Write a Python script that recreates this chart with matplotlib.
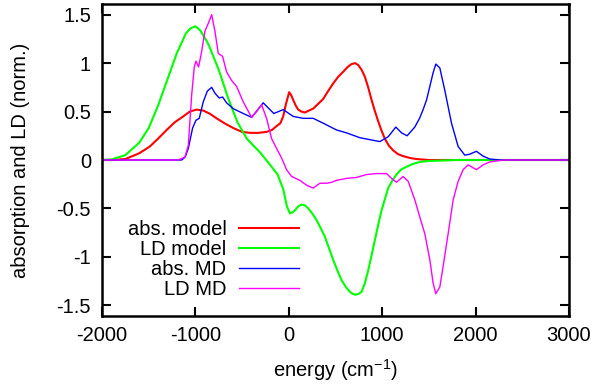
import numpy as np
import matplotlib
matplotlib.use("Agg")
import matplotlib.pyplot as plt

plt.rcParams['font.family'] = ['Liberation Sans', 'DejaVu Sans']
plt.rcParams['mathtext.default'] = 'regular'
plt.rcParams['font.size'] = 14.5

# abs. model
abs_model_x = [-2000, -1900, -1750, -1600, -1487, -1400, -1308, -1220, -1130, -1060, -987,
               -916, -850, -773, -690, -595, -500, -416, -330, -238, -180, -131, -90, -60,
               -30, 4, 25, 47, 75, 101, 135, 172, 215, 261, 315, 368, 420, 475, 530, 582,
               630, 672, 710, 743, 780, 814, 850, 886, 920, 957, 990, 1028, 1070, 1117,
               1170, 1224, 1300, 1367, 1500, 2000, 3000]
abs_model_y = [0.0, 0.0, 0.01, 0.07, 0.14, 0.22, 0.31, 0.39, 0.45, 0.50, 0.52,
               0.51, 0.48, 0.43, 0.38, 0.33, 0.29, 0.28, 0.28, 0.29, 0.31, 0.35, 0.38, 0.45,
               0.58, 0.70, 0.67, 0.62, 0.56, 0.52, 0.50, 0.49, 0.51, 0.53, 0.58, 0.63, 0.71, 0.79, 0.86, 0.91,
               0.96, 0.99, 1.0, 0.98, 0.93, 0.86, 0.75, 0.62, 0.51, 0.40, 0.31, 0.22, 0.15, 0.10,
               0.06, 0.04, 0.02, 0.01, 0.0, 0.0, 0.0]

# LD model
ld_model_x = [-2000, -1900, -1750, -1600, -1500, -1400, -1300, -1200, -1100, -1050, -1000,
              -950, -880, -850, -750, -650, -550, -450, -300, -200, -120, -60, -20, 12,
              40, 65, 100, 137, 175, 208, 250, 297, 340, 386, 430, 475, 520, 565, 610,
              654, 690, 718, 750, 779, 815, 850, 885, 921, 957, 993, 1030, 1064, 1110,
              1153, 1200, 1260, 1330, 1403, 1500, 1800, 3000]
ld_model_y = [0.0, 0.005, 0.05, 0.18, 0.33, 0.56, 0.83, 1.10, 1.31, 1.36, 1.38,
              1.34, 1.23, 1.17, 0.93, 0.64, 0.39, 0.22, 0.07, -0.05, -0.15, -0.30, -0.48, -0.55,
              -0.54, -0.52, -0.48, -0.46, -0.47, -0.50, -0.55, -0.62, -0.70, -0.79, -0.91, -1.03, -1.14, -1.24, -1.31,
              -1.36, -1.385, -1.39, -1.38, -1.36, -1.27, -1.14, -0.99, -0.83, -0.67, -0.52, -0.40, -0.29, -0.21,
              -0.15, -0.10, -0.07, -0.04, -0.02, -0.01, 0.0, 0.0]

# abs. MD
abs_md_x = [-2000, -1147, -1110, -1076, -1030, -994, -959, -916, -873, -826, -791, -745, -709,
            -666, -595, -488, -398, -340, -274, -202, -160, -110, -60, 47, 154, 261, 368, 511, 618,
            761, 868, 975, 1064, 1146, 1207, 1267, 1349, 1400, 1438, 1475, 1510, 1545, 1574, 1617, 1670,
            1742, 1813, 1884, 1938, 2009, 2080, 2152, 2259, 3000]
abs_md_y = [0.0, 0.0, 0.03, 0.12, 0.33, 0.41, 0.43, 0.60, 0.71, 0.75, 0.69, 0.64, 0.65,
            0.59, 0.53, 0.48, 0.44, 0.51, 0.59, 0.52, 0.48, 0.50, 0.52, 0.45, 0.43, 0.43, 0.38, 0.31, 0.28,
            0.23, 0.21, 0.19, 0.24, 0.34, 0.28, 0.25, 0.34, 0.43, 0.52, 0.62, 0.76, 0.90, 0.99, 0.95, 0.72,
            0.38, 0.14, 0.05, 0.06, 0.09, 0.04, 0.01, 0.0, 0.0]

# LD MD
ld_md_x = [-2000, -1183, -1112, -1076, -1040, -1012, -994, -966, -933, -898, -862, -826,
           -791, -755, -709, -666, -612, -559, -488, -398, -345, -291, -238, -184, -131,
           -77, -24, 30, 119, 190, 261, 333, 404, 458, 511, 618, 725, 832, 939, 1046,
           1100, 1153, 1224, 1278, 1349, 1403, 1456, 1510, 1545, 1574, 1617, 1652, 1706,
           1760, 1813, 1867, 1920, 2009, 2080, 2152, 2300, 3000]
ld_md_y = [0.0, 0.0, 0.03, 0.15, 0.67, 0.96, 1.02, 0.96, 1.12, 1.33, 1.41, 1.50,
           1.33, 1.10, 1.07, 0.91, 0.82, 0.76, 0.60, 0.44, 0.50, 0.57, 0.43, 0.22, 0.12,
           0.02, -0.10, -0.17, -0.21, -0.26, -0.29, -0.24, -0.24, -0.23, -0.21, -0.19, -0.18, -0.15, -0.14, -0.14,
           -0.19, -0.23, -0.17, -0.22, -0.41, -0.59, -0.76, -1.03, -1.27, -1.38, -1.31, -1.10, -0.76,
           -0.41, -0.22, -0.10, -0.05, -0.10, -0.05, -0.02, 0.0, 0.0]

fig = plt.figure(figsize=(5.96, 3.85), dpi=100)
ax = fig.add_axes([102 / 596, 69 / 385, 467 / 596, 312 / 385])

ax.plot(abs_model_x, abs_model_y, color='#ff0000', lw=1.5, label='abs. model')
ax.plot(ld_model_x, ld_model_y, color='#00ff00', lw=1.5, label='LD model')
ax.plot(abs_md_x, abs_md_y, color='#0000ff', lw=1.0, label='abs. MD')
ax.plot(ld_md_x, ld_md_y, color='#ff00ff', lw=1.0, label='LD MD')

ax.set_xlim(-2000, 3000)
ax.set_ylim(-1.61, 1.61)
ax.set_xticks([-2000, -1000, 0, 1000, 2000, 3000])
ax.set_yticks([-1.5, -1, -0.5, 0, 0.5, 1, 1.5])
ax.set_yticklabels(['-1.5', '-1', '-0.5', '0', '0.5', '1', '1.5'])
ax.set_xticklabels(['-2000', '-1000', '0', '1000', '2000', '3000'])

for s in ax.spines.values():
    s.set_linewidth(1.8)
ax.tick_params(direction='in', length=6.5, width=1.5, top=True, right=True)
ax.tick_params(axis='x', pad=7)
ax.tick_params(axis='y', pad=8)

ax.set_xlabel('energy (cm$^{-1}$)', labelpad=9)
ax.set_ylabel('absorption and LD (norm.)', labelpad=19)

ax.legend(loc='center right', bbox_to_anchor=(0.4218, 0.18), frameon=False,
          markerfirst=False, handlelength=3.0, handletextpad=0.6,
          labelspacing=0.05, borderpad=0, borderaxespad=0)

fig.savefig('out.png', dpi=100)
